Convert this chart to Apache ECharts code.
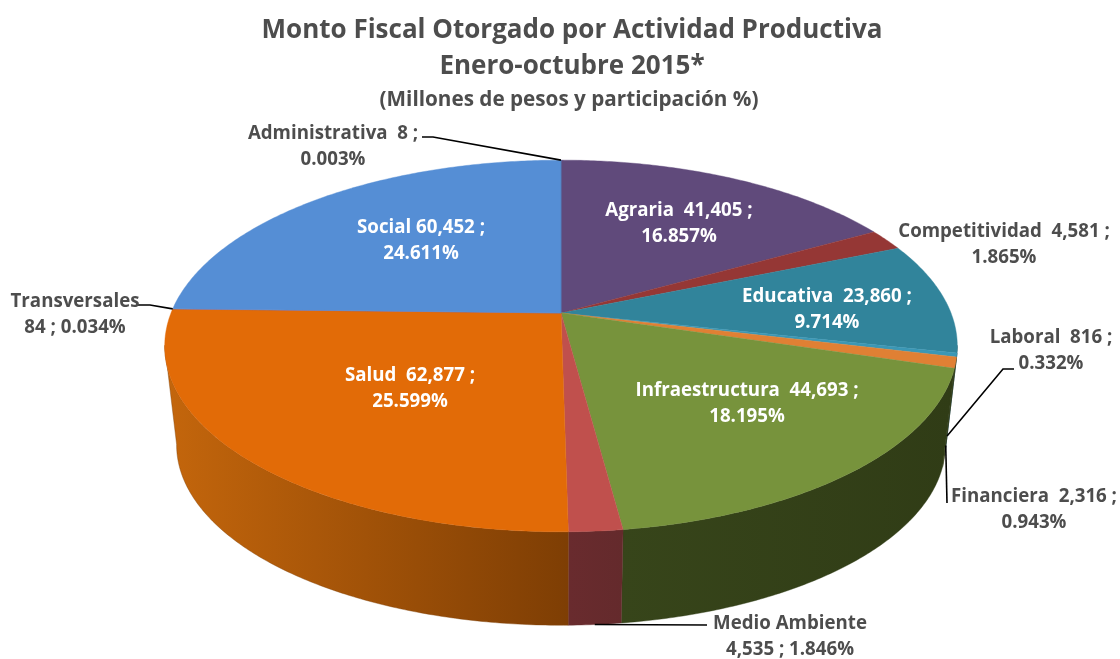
<!DOCTYPE html>
<html>
<head>
<meta charset="utf-8">
<title>Monto Fiscal Otorgado por Actividad Productiva</title>
<script src="https://cdn.jsdelivr.net/npm/echarts@6/dist/echarts.min.js"></script>
<style>
  html, body { margin: 0; padding: 0; background: #fff; }
  #chart { width: 1120px; height: 659px; }
</style>
</head>
<body>
<div id="chart"></div>
<script>
// Monto fiscal por actividad, clockwise from 12 o'clock
var categories = ['Agraria', 'Competitividad', 'Educativa', 'Laboral', 'Financiera', 'Infraestructura', 'Medio Ambiente', 'Salud', 'Transversales', 'Social', 'Administrativa'];
var amounts = [41405, 4581, 23860, 816, 2316, 44693, 4535, 62877, 84, 60452, 8];
var shares = ['16.857', '1.865', '9.714', '0.332', '0.943', '18.195', '1.846', '25.599', '0.034', '24.611', '0.003'];

var topColors = ['#604a7b', '#953735', '#31849b', '#3b97b5', '#e08034', '#77933c', '#c0504d', '#e26b07', '#8064a2', '#558ed5', '#4f81bd'];
var wallLeft = ['#2f2f4a', '#4f1d1c', '#1c4f5c', '#264f5c', '#3a3f18', '#37451a', '#692b2e', '#c4660c', '#7a3d04', '#2e5482', '#2e5482'];
var wallRight = ['#2f2f4a', '#4f1d1c', '#1c4f5c', '#264f5c', '#3a3f18', '#303c16', '#642a2c', '#7e3e04', '#7a3d04', '#2e5482', '#2e5482'];

// label placement: centre x, first line y, text colour, how the two lines break
var labelPlaces = [
  {x: 679, y: 210, color: '#fff', wrap: 'semi'},
  {x: 1004, y: 231, color: '#4d4d4d', wrap: 'semi'},
  {x: 827, y: 296, color: '#fff', wrap: 'semi'},
  {x: 1051, y: 337, color: '#4d4d4d', wrap: 'semi'},
  {x: 1034, y: 496, color: '#4d4d4d', wrap: 'semi'},
  {x: 747, y: 390, color: '#fff', wrap: 'semi'},
  {x: 790, y: 623, color: '#4d4d4d', wrap: 'name'},
  {x: 410, y: 375, color: '#fff', wrap: 'semi'},
  {x: 75, y: 301, color: '#4d4d4d', wrap: 'name'},
  {x: 421, y: 227, color: '#fff', wrap: 'semi'},
  {x: 333, y: 133, color: '#4d4d4d', wrap: 'semi'}
];

// leader lines: label side points, then t = how far down the wall it lands
var leaders = {
  3: {from: [[1014, 369], [1003, 369]], t: 0.82},
  4: {from: [[947, 503]], t: 0.84},
  6: {from: [[707, 625]], t: 1},
  8: {from: [[137, 305], [150, 305]], t: 0},
  10: {from: [[422, 137], [433, 137]], t: 0}
};

var total = 0;
for (var i = 0; i < amounts.length; i++) total += amounts[i];

var starts = [];
var run = 0;
for (var i = 0; i < amounts.length; i++) {
  starts.push(run / total * Math.PI * 2);
  run += amounts[i];
}

// perspective of the disc: top rim and bottom rim
var CX = 561, TOP_Y = 313, BOT_Y = 413, RX = 390, RY = 180, K = 0.1774, BOT_SCALE = 0.97;
var SIL_A = 100 * Math.PI / 180, SIL_B = 260 * Math.PI / 180;

function rim(angle, bottom) {
  var u = Math.sin(angle), v = Math.cos(angle), w = 1 + K * v;
  var s = bottom ? BOT_SCALE : 1;
  return [CX + s * RX * u / w, (bottom ? BOT_Y : TOP_Y) - s * RY * v / w];
}

function arcAngles(a0, a1) {
  var list = [a0];
  var n = Math.ceil((a1 - a0) / 0.01);
  for (var j = 1; j <= n; j++) list.push(a0 + (a1 - a0) * j / n);
  return list;
}

function sliceAngle(idx) {
  var a0 = starts[idx];
  return [a0, a0 + amounts[idx] / total * Math.PI * 2];
}

function renderWall(params, api) {
  var idx = api.value(0);
  var a = sliceAngle(idx);
  var a0 = Math.max(a[0], SIL_A), a1 = Math.min(a[1], SIL_B);
  if (a1 <= a0) return {type: 'group', children: []};
  var list = arcAngles(a0, a1);
  var pts = [];
  for (var j = 0; j < list.length; j++) pts.push(rim(list[j], false));
  for (var j = list.length - 1; j >= 0; j--) pts.push(rim(list[j], true));
  return {
    type: 'polygon',
    shape: {points: pts},
    style: {
      fill: new echarts.graphic.LinearGradient(0, 0, 1, 0, [
        {offset: 0, color: wallLeft[idx]},
        {offset: 1, color: wallRight[idx]}
      ]),
      stroke: wallRight[idx],
      lineWidth: 0.4
    }
  };
}

function renderTop(params, api) {
  var idx = api.value(0);
  var a = sliceAngle(idx);
  var pts = [[CX, TOP_Y]];
  var list = arcAngles(a[0], a[1]);
  for (var j = 0; j < list.length; j++) pts.push(rim(list[j], false));
  return {
    type: 'polygon',
    shape: {points: pts},
    style: {fill: topColors[idx], stroke: topColors[idx], lineWidth: 0.4}
  };
}

function labelLines(idx) {
  var name = categories[idx];
  var val = amounts[idx].toLocaleString('en-US');
  var pct = shares[idx] + '%';
  if (labelPlaces[idx].wrap === 'name') return name + '\n' + val + ' ; ' + pct;
  var gap = name === 'Social' ? ' ' : '  ';
  return name + gap + val + ' ;\n' + pct;
}

function renderLabel(params, api) {
  var idx = api.value(0);
  var place = labelPlaces[idx];
  var kids = [{
    type: 'text',
    z2: 5,
    style: {
      text: labelLines(idx),
      x: place.x,
      y: place.y - 13,
      align: 'center',
      verticalAlign: 'top',
      font: 'bold 18.7px "Open Sans"',
      lineHeight: 26.5,
      fill: place.color
    }
  }];
  var lead = leaders[idx];
  if (lead) {
    var a = sliceAngle(idx);
    var mid = (a[0] + a[1]) / 2;
    var t0 = rim(mid, false), t1 = rim(mid, true);
    var end = [t0[0] + (t1[0] - t0[0]) * lead.t, t0[1] + (t1[1] - t0[1]) * lead.t];
    kids.push({
      type: 'polyline',
      z2: 4,
      shape: {points: lead.from.concat([end])},
      style: {stroke: '#000', lineWidth: 1.6, fill: null}
    });
  }
  return {type: 'group', children: kids};
}

var rows = [];
for (var i = 0; i < categories.length; i++) rows.push([i, amounts[i]]);

var chart = echarts.init(document.getElementById('chart'));

var option = {
  animation: false,
  backgroundColor: '#fff',
  title: [
    {text: 'Monto Fiscal Otorgado por Actividad Productiva', left: 567, top: 13, textAlign: 'center',
      textStyle: {fontFamily: 'Open Sans', fontWeight: 'bold', fontSize: 26, color: '#4d4d4d'}},
    {text: 'Enero-octubre 2015*', left: 567, top: 49, textAlign: 'center',
      textStyle: {fontFamily: 'Open Sans', fontWeight: 'bold', fontSize: 26, color: '#4d4d4d'}},
    {text: '(Millones de pesos y participación %)', left: 564, top: 85, textAlign: 'center',
      textStyle: {fontFamily: 'Open Sans', fontWeight: 'bold', fontSize: 20.7, color: '#4d4d4d'}}
  ],
  series: [
    {type: 'custom', coordinateSystem: 'none', silent: true, z: 1, data: rows, renderItem: renderWall},
    {type: 'custom', coordinateSystem: 'none', silent: true, z: 2, data: rows, renderItem: renderTop},
    {type: 'custom', coordinateSystem: 'none', silent: true, z: 3, data: rows, renderItem: renderLabel}
  ]
};

chart.setOption(option);
</script>
</body>
</html>
